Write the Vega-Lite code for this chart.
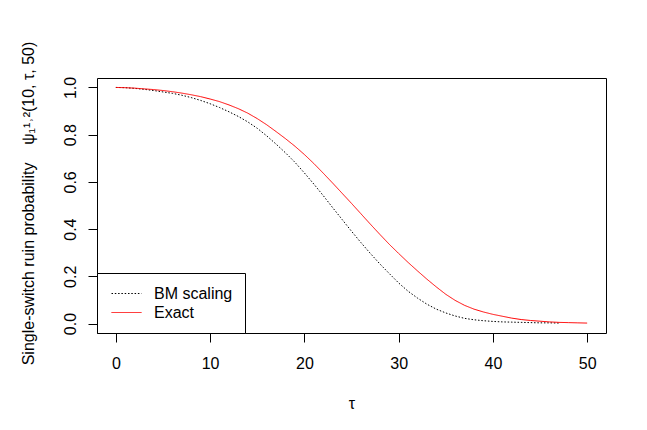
{
  "$schema": "https://vega.github.io/schema/vega-lite/v6.json",
  "description": "Single-switch ruin probability, BM scaling vs exact",
  "autosize": "none",
  "padding": {"left": 97, "top": 78, "right": 41, "bottom": 97},
  "width": 509,
  "height": 255,
  "config": {
    "font": "Liberation Sans",
    "view": {"stroke": "black", "strokeWidth": 1},
    "axis": {
      "grid": false,
      "domain": false,
      "tickColor": "black",
      "tickSize": 9,
      "labelColor": "black",
      "labelFontSize": 16,
      "labelFont": "Liberation Sans",
      "titleColor": "black",
      "titleFont": "Liberation Sans",
      "titleFontSize": 16,
      "titleFontWeight": "normal"
    }
  },
  "data": {
    "values": [
      {"tau": 0, "p": 1.000, "series": "BM scaling"},
      {"tau": 1, "p": 0.999, "series": "BM scaling"},
      {"tau": 2, "p": 0.996, "series": "BM scaling"},
      {"tau": 3, "p": 0.992, "series": "BM scaling"},
      {"tau": 4, "p": 0.987, "series": "BM scaling"},
      {"tau": 5, "p": 0.981, "series": "BM scaling"},
      {"tau": 6, "p": 0.975, "series": "BM scaling"},
      {"tau": 7, "p": 0.967, "series": "BM scaling"},
      {"tau": 8, "p": 0.957, "series": "BM scaling"},
      {"tau": 9, "p": 0.945, "series": "BM scaling"},
      {"tau": 10, "p": 0.931, "series": "BM scaling"},
      {"tau": 11, "p": 0.915, "series": "BM scaling"},
      {"tau": 12, "p": 0.897, "series": "BM scaling"},
      {"tau": 13, "p": 0.877, "series": "BM scaling"},
      {"tau": 14, "p": 0.854, "series": "BM scaling"},
      {"tau": 15, "p": 0.827, "series": "BM scaling"},
      {"tau": 16, "p": 0.795, "series": "BM scaling"},
      {"tau": 17, "p": 0.760, "series": "BM scaling"},
      {"tau": 18, "p": 0.723, "series": "BM scaling"},
      {"tau": 19, "p": 0.683, "series": "BM scaling"},
      {"tau": 20, "p": 0.638, "series": "BM scaling"},
      {"tau": 21, "p": 0.591, "series": "BM scaling"},
      {"tau": 22, "p": 0.542, "series": "BM scaling"},
      {"tau": 23, "p": 0.491, "series": "BM scaling"},
      {"tau": 24, "p": 0.441, "series": "BM scaling"},
      {"tau": 25, "p": 0.391, "series": "BM scaling"},
      {"tau": 26, "p": 0.343, "series": "BM scaling"},
      {"tau": 27, "p": 0.297, "series": "BM scaling"},
      {"tau": 28, "p": 0.253, "series": "BM scaling"},
      {"tau": 29, "p": 0.212, "series": "BM scaling"},
      {"tau": 30, "p": 0.172, "series": "BM scaling"},
      {"tau": 31, "p": 0.137, "series": "BM scaling"},
      {"tau": 32, "p": 0.108, "series": "BM scaling"},
      {"tau": 33, "p": 0.082, "series": "BM scaling"},
      {"tau": 34, "p": 0.061, "series": "BM scaling"},
      {"tau": 35, "p": 0.045, "series": "BM scaling"},
      {"tau": 36, "p": 0.032, "series": "BM scaling"},
      {"tau": 37, "p": 0.022, "series": "BM scaling"},
      {"tau": 38, "p": 0.016, "series": "BM scaling"},
      {"tau": 39, "p": 0.012, "series": "BM scaling"},
      {"tau": 40, "p": 0.009, "series": "BM scaling"},
      {"tau": 41, "p": 0.007, "series": "BM scaling"},
      {"tau": 42, "p": 0.006, "series": "BM scaling"},
      {"tau": 43, "p": 0.005, "series": "BM scaling"},
      {"tau": 44, "p": 0.004, "series": "BM scaling"},
      {"tau": 45, "p": 0.003, "series": "BM scaling"},
      {"tau": 46, "p": 0.003, "series": "BM scaling"},
      {"tau": 47, "p": 0.002, "series": "BM scaling"},
      {"tau": 0, "p": 1.000, "series": "Exact"},
      {"tau": 1, "p": 0.999, "series": "Exact"},
      {"tau": 2, "p": 0.997, "series": "Exact"},
      {"tau": 3, "p": 0.994, "series": "Exact"},
      {"tau": 4, "p": 0.991, "series": "Exact"},
      {"tau": 5, "p": 0.987, "series": "Exact"},
      {"tau": 6, "p": 0.982, "series": "Exact"},
      {"tau": 7, "p": 0.976, "series": "Exact"},
      {"tau": 8, "p": 0.969, "series": "Exact"},
      {"tau": 9, "p": 0.961, "series": "Exact"},
      {"tau": 10, "p": 0.951, "series": "Exact"},
      {"tau": 11, "p": 0.940, "series": "Exact"},
      {"tau": 12, "p": 0.926, "series": "Exact"},
      {"tau": 13, "p": 0.910, "series": "Exact"},
      {"tau": 14, "p": 0.891, "series": "Exact"},
      {"tau": 15, "p": 0.868, "series": "Exact"},
      {"tau": 16, "p": 0.842, "series": "Exact"},
      {"tau": 17, "p": 0.813, "series": "Exact"},
      {"tau": 18, "p": 0.783, "series": "Exact"},
      {"tau": 19, "p": 0.751, "series": "Exact"},
      {"tau": 20, "p": 0.716, "series": "Exact"},
      {"tau": 21, "p": 0.678, "series": "Exact"},
      {"tau": 22, "p": 0.637, "series": "Exact"},
      {"tau": 23, "p": 0.595, "series": "Exact"},
      {"tau": 24, "p": 0.552, "series": "Exact"},
      {"tau": 25, "p": 0.509, "series": "Exact"},
      {"tau": 26, "p": 0.465, "series": "Exact"},
      {"tau": 27, "p": 0.421, "series": "Exact"},
      {"tau": 28, "p": 0.378, "series": "Exact"},
      {"tau": 29, "p": 0.336, "series": "Exact"},
      {"tau": 30, "p": 0.297, "series": "Exact"},
      {"tau": 31, "p": 0.259, "series": "Exact"},
      {"tau": 32, "p": 0.223, "series": "Exact"},
      {"tau": 33, "p": 0.188, "series": "Exact"},
      {"tau": 34, "p": 0.155, "series": "Exact"},
      {"tau": 35, "p": 0.124, "series": "Exact"},
      {"tau": 36, "p": 0.098, "series": "Exact"},
      {"tau": 37, "p": 0.077, "series": "Exact"},
      {"tau": 38, "p": 0.061, "series": "Exact"},
      {"tau": 39, "p": 0.049, "series": "Exact"},
      {"tau": 40, "p": 0.039, "series": "Exact"},
      {"tau": 41, "p": 0.031, "series": "Exact"},
      {"tau": 42, "p": 0.023, "series": "Exact"},
      {"tau": 43, "p": 0.017, "series": "Exact"},
      {"tau": 44, "p": 0.013, "series": "Exact"},
      {"tau": 45, "p": 0.010, "series": "Exact"},
      {"tau": 46, "p": 0.007, "series": "Exact"},
      {"tau": 47, "p": 0.005, "series": "Exact"},
      {"tau": 48, "p": 0.004, "series": "Exact"},
      {"tau": 49, "p": 0.003, "series": "Exact"},
      {"tau": 50, "p": 0.002, "series": "Exact"}
    ]
  },
  "mark": {"type": "line", "strokeWidth": 1},
  "encoding": {
    "x": {
      "field": "tau",
      "type": "quantitative",
      "scale": {"domain": [-2, 52], "nice": false, "zero": false},
      "axis": {
        "values": [0, 10, 20, 30, 40, 50],
        "labelPadding": 13,
        "title": "τ",
        "titleX": 254.5,
        "titleY": 75,
        "titleBaseline": "alphabetic"
      }
    },
    "y": {
      "field": "p",
      "type": "quantitative",
      "scale": {"domain": [-0.04, 1.04], "nice": false, "zero": false},
      "axis": {
        "values": [0, 0.2, 0.4, 0.6, 0.8, 1],
        "format": ".1f",
        "labelAngle": -90,
        "labelAlign": "center",
        "labelBaseline": "alphabetic",
        "labelPadding": 13,
        "title": "Single-switch ruin probability\u00a0\u00a0\u00a0\u00a0ψ₁¹˒²(10, τ, 50)",
        "titleAngle": -90,
        "titleAlign": "center",
        "titleBaseline": "alphabetic",
        "titleX": -64,
        "titleY": 125
      }
    },
    "color": {
      "field": "series",
      "type": "nominal",
      "scale": {"domain": ["BM scaling", "Exact"], "range": ["#000000", "#ff0000"]},
      "legend": {
        "title": null,
        "orient": "none",
        "legendX": 0,
        "legendY": 195,
        "padding": 12,
        "fillColor": "white",
        "strokeColor": "black",
        "symbolType": "M-1.875,0H1.875",
        "symbolSize": 256,
        "symbolStrokeWidth": 1,
        "symbolOffset": 9,
        "labelOffset": 19,
        "labelFontSize": 16,
        "labelFont": "Liberation Sans",
        "labelColor": "black",
        "rowPadding": 2
      }
    },
    "strokeDash": {
      "field": "series",
      "type": "nominal",
      "scale": {"domain": ["BM scaling", "Exact"], "range": [[1.5, 1.8], [1, 0]]},
      "legend": {
        "title": null,
        "orient": "none",
        "legendX": 0,
        "legendY": 195,
        "padding": 12,
        "fillColor": "white",
        "strokeColor": "black",
        "symbolType": "M-1.875,0H1.875",
        "symbolSize": 256,
        "symbolStrokeWidth": 1,
        "symbolOffset": 9,
        "labelOffset": 19,
        "labelFontSize": 16,
        "labelFont": "Liberation Sans",
        "labelColor": "black",
        "rowPadding": 2
      }
    }
  }
}
